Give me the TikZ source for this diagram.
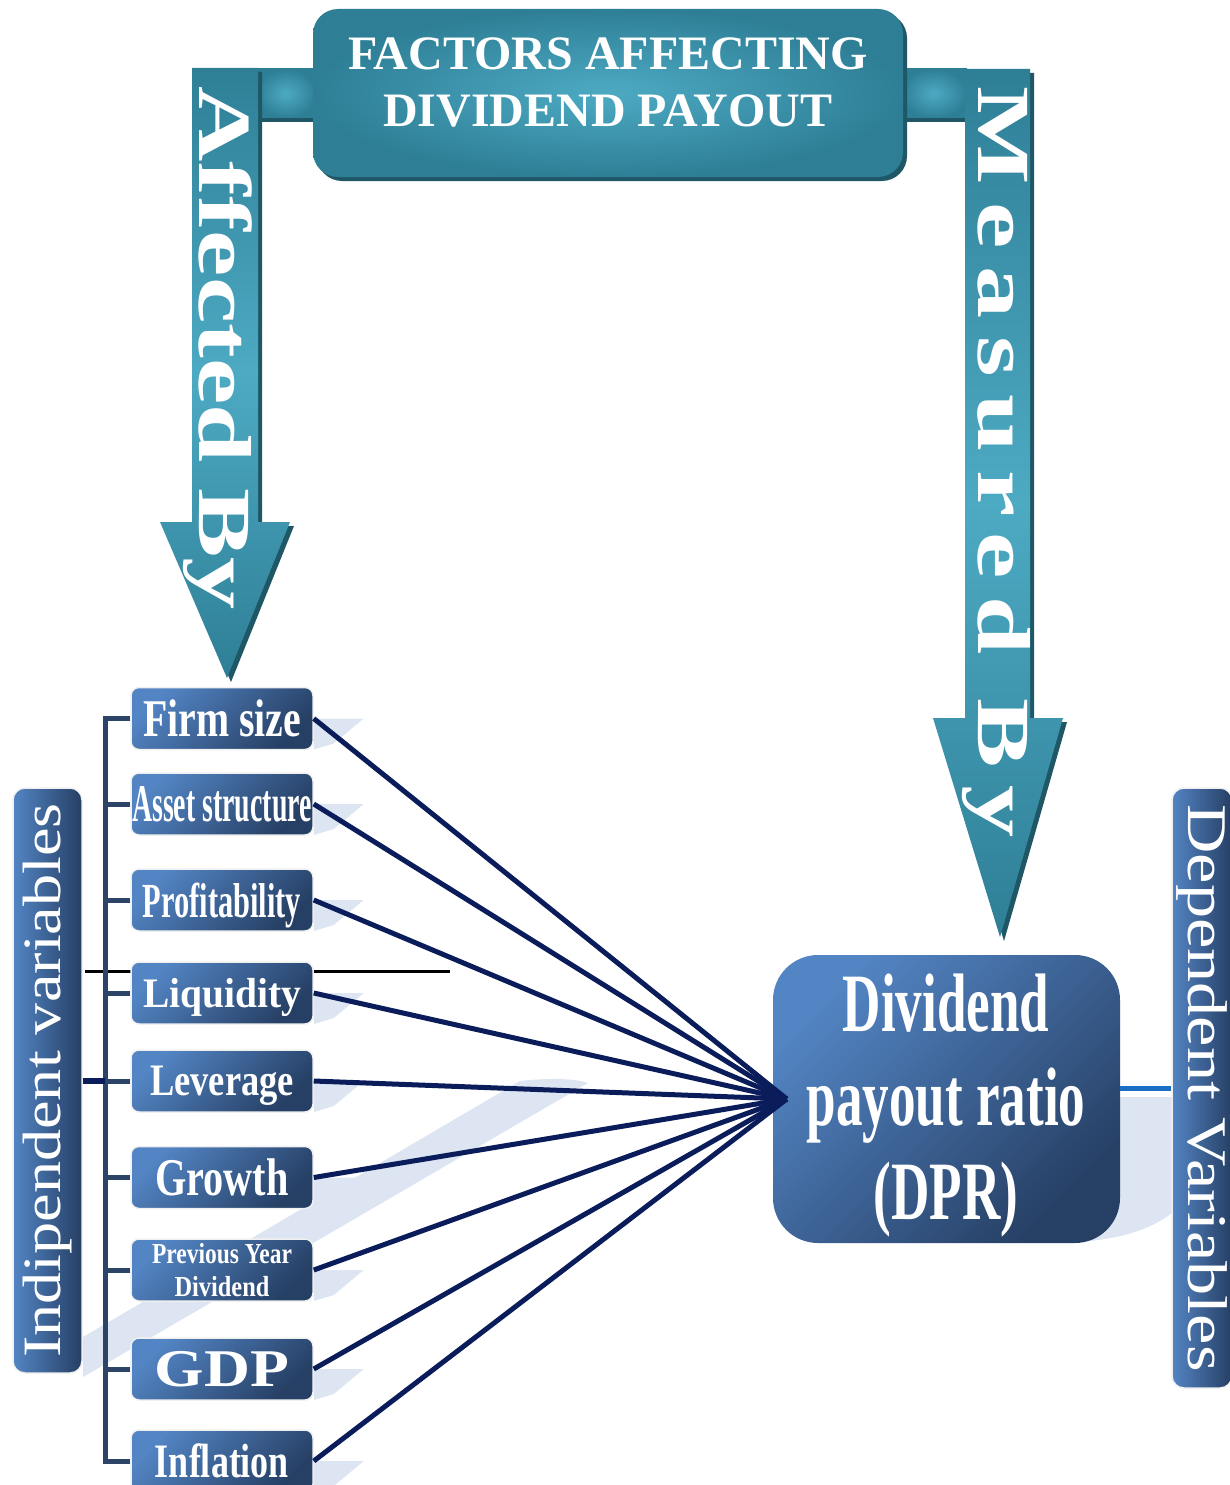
\documentclass[tikz,border=0pt]{standalone}
\usepackage{graphicx}
\usepackage{fontspec}
\setmainfont{Liberation Serif}
\usetikzlibrary{positioning}

\definecolor{tealdark}{HTML}{2E7F96}
\definecolor{teallight}{HTML}{4DAAC3}
\definecolor{tealshade}{HTML}{1F5766}
\definecolor{boxlight}{HTML}{5385C4}
\definecolor{boxdark}{HTML}{263F64}
\definecolor{navyline}{HTML}{0A1D5A}
\definecolor{slateline}{HTML}{2B4468}
\definecolor{paleshade}{HTML}{DCE5F1}
\definecolor{brightblue}{HTML}{1A6FC4}

\newcommand{\fs}[2]{\fontsize{#1}{#2}\selectfont}
\newcommand{\squeeze}[2]{\scalebox{#1}[1]{#2}}

\begin{document}
\begin{tikzpicture}[x=1pt, y=-1pt,
	varbox/.style={draw=black!6, line width=1.5pt, rounded corners=8pt,
		top color=boxlight, bottom color=boxdark, shading angle=45,
		minimum width=182, minimum height=62, inner sep=0pt,
		text=white, text depth=0pt},
	sidebar/.style={draw=black!6, line width=1.5pt, rounded corners=12pt,
		left color=boxlight, right color=boxdark, inner sep=0pt, text=white},
	arrowtext/.style={text=white, inner sep=0pt, text depth=0pt, rotate=-90,
		font=\bfseries\fs{75}{80}},
	paleshadow/.style={fill=paleshade},
	factorlink/.style={navyline, line width=5pt},
	bracketline/.style={slateline, line width=5pt}]
\useasboundingbox (0,0) rectangle (1230,1485);

% pale shadows
\fill[paleshadow] (83,1337) -- (520,1081) .. controls (545,1078) and (575,1078) .. (588,1083) -- (83,1377) -- cycle;
\fill[paleshadow] (1110,1097) -- (1172,1097) -- (1172,1213) .. controls (1150,1230) and (1120,1238) .. (1090,1241) -- cycle;

% teal arrows
\fill[tealshade] (256,69) rectangle (316,122);
\shade[inner color=teallight, outer color=tealdark] (256,69) rectangle (316,118);
\fill[tealshade] (901,69) rectangle (967,122);
\shade[inner color=teallight, outer color=tealdark] (901,69) rectangle (967,118);
\fill[tealshade] (196,72) -- (262,72) -- (262,526) -- (294,526) -- (231,682) -- (164,526) -- (196,526) -- cycle;
\shade[top color=tealdark, bottom color=tealdark, middle color=teallight] (192,68) -- (258,68) -- (258,522) -- (290,522) -- (227,678) -- (160,522) -- (192,522) -- cycle;
\fill[tealshade] (969,73) -- (1034,73) -- (1034,722) -- (1067,722) -- (1004,941) -- (937,722) -- (969,722) -- cycle;
\shade[top color=tealdark, bottom color=tealdark, middle color=teallight] (965,69) -- (1030,69) -- (1030,718) -- (1063,718) -- (1000,937) -- (933,718) -- (965,718) -- cycle;
\node (affected) at (226,348) [arrowtext] {\squeeze{1.39}{Affected By}};
\node (measured) at (1005,462) [arrowtext] {\squeeze{1.39}{\addfontfeature{LetterSpace=17}Measured By}};

% title
\fill[tealshade, rounded corners=25pt] (317,13) rectangle (907,181);
\node (title) at (608,93) [rounded corners=25pt, inner color=teallight, outer color=tealdark, minimum width=590, minimum height=168] {};
\node (titletext) at (608,82) [text=white, align=center, font=\bfseries\fs{48}{57}] {FACTORS AFFECTING\\DIVIDEND PAYOUT};

\draw[line width=3pt] (85,971) -- (450,971);

% factor boxes
\node (firm) at (222,718.5) [varbox, font=\bfseries\fs{53}{60}] {\squeeze{.75}{Firm size}};
\node (asset) at (222,804) [varbox, font=\bfseries\fs{53}{60}] {\squeeze{.525}{Asset structure}};
\node (profit) at (222,900) [varbox, font=\bfseries\fs{49}{56}] {\squeeze{.62}{Profitability}};
\node (liquid) at (222,993) [varbox, font=\bfseries\fs{42}{48}] {\squeeze{.94}{Liquidity}};
\node (lever) at (222,1081) [varbox, font=\bfseries\fs{45}{52}] {\squeeze{.81}{Leverage}};
\node (growth) at (222,1177.5) [varbox, font=\bfseries\fs{53}{60}] {\squeeze{.76}{Growth}};
\node (prevdiv) at (222,1270) [varbox, text depth=, align=center, font=\bfseries\fs{29}{33}] {\squeeze{.81}{Previous Year}\\\squeeze{.84}{Dividend}};
\node (gdp) at (222,1369) [varbox, font=\bfseries\fs{53}{60}] {\squeeze{1.2}{GDP}};
\node (infl) at (222,1461) [varbox, font=\bfseries\fs{48}{55}] {\squeeze{.75}{Inflation}};

\fill[paleshadow] (firm.east) -- ++(50,0) -- ++(-30,25) -- ++(-20,6) -- cycle;
\fill[paleshadow] (asset.east) -- ++(50,0) -- ++(-30,25) -- ++(-20,6) -- cycle;
\fill[paleshadow] (profit.east) -- ++(50,0) -- ++(-30,25) -- ++(-20,6) -- cycle;
\fill[paleshadow] (liquid.east) -- ++(50,0) -- ++(-30,25) -- ++(-20,6) -- cycle;
\fill[paleshadow] (lever.east) -- ++(50,0) -- ++(-30,25) -- ++(-20,6) -- cycle;
\fill[paleshadow] (growth.east) -- ++(50,0) -- ++(-30,25) -- ++(-20,6) -- cycle;
\fill[paleshadow] (prevdiv.east) -- ++(50,0) -- ++(-30,25) -- ++(-20,6) -- cycle;
\fill[paleshadow] (gdp.east) -- ++(50,0) -- ++(-30,25) -- ++(-20,6) -- cycle;
\fill[paleshadow] (infl.east) -- ++(50,0) -- ++(-30,25) -- ++(-20,6) -- cycle;

% side bars
\node (indep) at (47.5,1080.5) [sidebar, minimum width=69, minimum height=585, font=\fs{54}{60}] {\rotatebox{90}{\squeeze{1.19}{Indipendent variables}}};
\node (dep) at (1202,1088) [sidebar, minimum width=60, minimum height=600, font=\fs{56}{62}] {\rotatebox{-90}{\squeeze{1.22}{Dependent Variables}}};

% bracket
\coordinate (spine) at (105,0);
\draw[bracketline] (firm.west) -| (spine |- infl.west) -- (infl.west);
\draw[bracketline] (asset.west) -- (asset.west -| spine);
\draw[bracketline] (profit.west) -- (profit.west -| spine);
\draw[bracketline] (liquid.west) -- (liquid.west -| spine);
\draw[bracketline] (lever.west) -- (lever.west -| spine);
\draw[bracketline] (growth.west) -- (growth.west -| spine);
\draw[bracketline] (prevdiv.west) -- (prevdiv.west -| spine);
\draw[bracketline] (gdp.west) -- (gdp.west -| spine);
\draw[factorlink, line width=6pt] (indep.east) -- (indep.east -| spine);

% result box
\node (dpr) at (946.5,1099) [rounded corners=45pt, top color=boxlight, bottom color=boxdark, shading angle=45, minimum width=347, minimum height=288] {};
\node (dprtext) at (946,1106) [text=white, align=center, font=\bfseries\fs{83}{94}] {\squeeze{.64}{Dividend}\\\squeeze{.64}{payout ratio}\\\squeeze{.64}{(DPR)}};
\draw[brightblue, line width=5pt] (dpr.east |- dep.west) -- (dep.west);

% links
\coordinate (hub) at ([xshift=14pt]dpr.west);
\draw[factorlink] (firm.east) -- (hub);
\draw[factorlink] (asset.east) -- (hub);
\draw[factorlink] (profit.east) -- (hub);
\draw[factorlink] (liquid.east) -- (hub);
\draw[factorlink] (lever.east) -- (hub);
\draw[factorlink] (growth.east) -- (hub);
\draw[factorlink] (prevdiv.east) -- (hub);
\draw[factorlink] (gdp.east) -- (hub);
\draw[factorlink] (infl.east) -- (hub);
\end{tikzpicture}
\end{document}
